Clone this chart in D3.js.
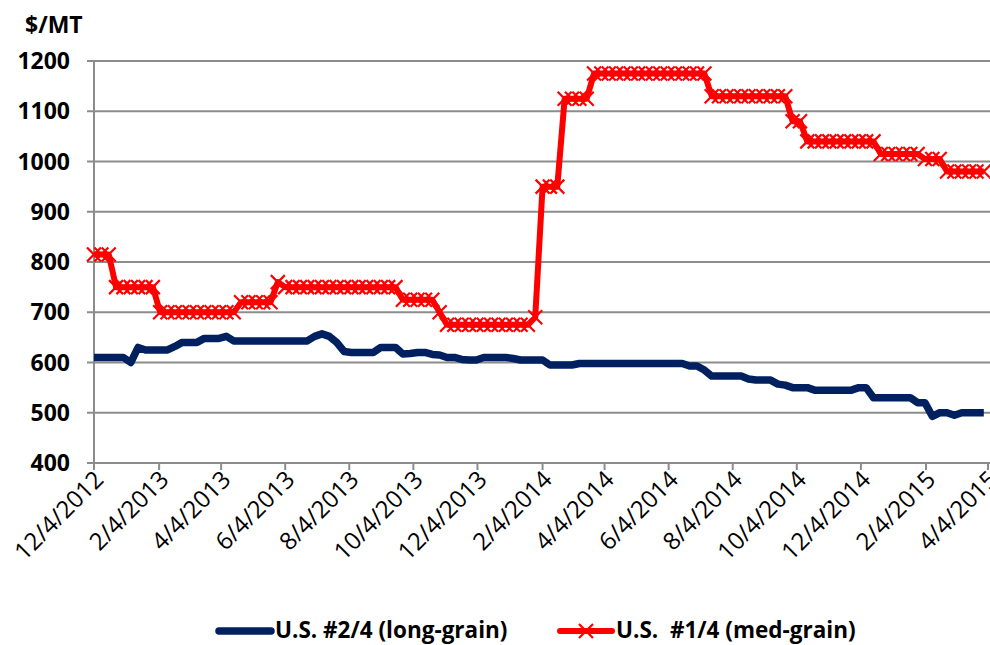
<!DOCTYPE html>
<html lang="en">
  <head>
    <meta charset="UTF-8" />
    <title>Rice prices</title>
    <script src="https://d3js.org/d3.v7.min.js"></script>
    <style>
      body { margin: 0; background: #fff; }
      text { font-family: "Open Sans", sans-serif; fill: #000; }
    </style>
  </head>
  <body>
    <script>
      // weekly quotes starting 12/4/2012
      var startDate = "12/4/2012";
      var longGrain = [
        610, 610, 610, 610, 610, 600, 630, 625, 625, 625, 625, 632, 640, 640, 640, 648,
        648, 648, 652, 643, 643, 643, 643, 643, 643, 643, 643, 643, 643, 643, 652, 657,
        652, 640, 622, 620, 620, 620, 620, 630, 630, 630, 617, 618, 620, 620, 616, 615,
        610, 610, 606, 605, 605, 610, 610, 610, 610, 608, 605, 605, 605, 605, 595, 595,
        595, 595, 598, 598, 598, 598, 598, 598, 598, 598, 598, 598, 598, 598, 598, 598,
        598, 593, 593, 585, 573, 573, 573, 573, 573, 567, 565, 565, 565, 557, 555, 550,
        550, 550, 545, 545, 545, 545, 545, 545, 550, 550, 530, 530, 530, 530, 530, 530,
        520, 520, 493, 500, 500, 495, 500, 500, 500, 500
      ];
      var medGrain = [
        815, 815, 815, 750, 750, 750, 750, 750, 750, 700, 700, 700, 700, 700, 700, 700,
        700, 700, 700, 700, 720, 720, 720, 720, 720, 760, 750, 750, 750, 750, 750, 750,
        750, 750, 750, 750, 750, 750, 750, 750, 750, 750, 725, 725, 725, 725, 725, 700,
        675, 675, 675, 675, 675, 675, 675, 675, 675, 675, 675, 675, 690, 950, 950, 950,
        1125, 1125, 1125, 1125, 1175, 1175, 1175, 1175, 1175, 1175, 1175, 1175, 1175, 1175, 1175, 1175,
        1175, 1175, 1175, 1175, 1130, 1130, 1130, 1130, 1130, 1130, 1130, 1130, 1130, 1130, 1130, 1080,
        1080, 1040, 1040, 1040, 1040, 1040, 1040, 1040, 1040, 1040, 1040, 1015, 1015, 1015, 1015, 1015,
        1015, 1005, 1005, 1005, 980, 980, 980, 980, 980, 980
      ];
      var xTickLabels = [
        "12/4/2012", "2/4/2013", "4/4/2013", "6/4/2013", "8/4/2013", "10/4/2013", "12/4/2013",
        "2/4/2014", "4/4/2014", "6/4/2014", "8/4/2014", "10/4/2014", "12/4/2014", "2/4/2015", "4/4/2015"
      ];
      var yTicks = [400, 500, 600, 700, 800, 900, 1000, 1100, 1200];
      var seriesNames = ["U.S. #2/4 (long-grain)", "U.S.  #1/4 (med-grain)"];

      var parse = d3.timeParse("%m/%d/%Y");
      var start = parse(startDate);
      var tickDates = xTickLabels.map(function (s) { return parse(s); });

      var width = 990, height = 645;
      var plotLeft = 94, plotRight = 988, plotTop = 61, plotBottom = 463;

      var svg = d3.select("body").append("svg")
        .attr("width", width)
        .attr("height", height);

      var x = d3.scaleTime()
        .domain([tickDates[0], tickDates[tickDates.length - 1]])
        .range([plotLeft, plotRight]);
      var y = d3.scaleLinear().domain([400, 1200]).range([plotBottom, plotTop]);

      function toPoints(arr) {
        return arr.map(function (v, i) {
          return { date: d3.timeDay.offset(start, i * 7), value: v };
        });
      }
      var blueData = toPoints(longGrain);
      var redData = toPoints(medGrain);

      // gridlines
      svg.append("g")
        .selectAll("line")
        .data(yTicks)
        .enter()
        .append("line")
        .attr("x1", plotLeft - 7)
        .attr("x2", 990)
        .attr("y1", function (d) { return y(d); })
        .attr("y2", function (d) { return y(d); })
        .attr("stroke", "#8c8c8c")
        .attr("stroke-width", 2);

      // y axis line
      svg.append("line")
        .attr("x1", plotLeft).attr("x2", plotLeft)
        .attr("y1", plotTop).attr("y2", plotBottom + 7)
        .attr("stroke", "#8c8c8c").attr("stroke-width", 2);

      // y labels
      svg.append("g")
        .selectAll("text")
        .data(yTicks)
        .enter()
        .append("text")
        .attr("x", 70)
        .attr("y", function (d) { return y(d) + 8; })
        .attr("text-anchor", "end")
        .style("font-size", "23px")
        .style("font-weight", "bold")
        .text(function (d) { return d; });

      svg.append("text")
        .attr("x", 25).attr("y", 33)
        .style("font-size", "23px")
        .style("font-weight", "bold")
        .text("$/MT");

      // x ticks
      svg.append("g")
        .selectAll("line")
        .data(tickDates)
        .enter()
        .append("line")
        .attr("x1", function (d) { return x(d); })
        .attr("x2", function (d) { return x(d); })
        .attr("y1", plotBottom)
        .attr("y2", plotBottom + 7)
        .attr("stroke", "#8c8c8c")
        .attr("stroke-width", 2);

      svg.append("g")
        .selectAll("text")
        .data(tickDates)
        .enter()
        .append("text")
        .attr("transform", function (d) {
          return "translate(" + (x(d) + 11) + "," + (plotBottom + 18) + ") rotate(-45)";
        })
        .attr("text-anchor", "end")
        .style("font-size", "24px")
        .text(function (d, i) { return xTickLabels[i]; });

      var line = d3.line()
        .x(function (d) { return x(d.date); })
        .y(function (d) { return y(d.value); });

      svg.append("path")
        .datum(blueData)
        .attr("fill", "none")
        .attr("stroke", "#002060")
        .attr("stroke-width", 7.5)
        .attr("stroke-linejoin", "round")
        .attr("d", line);

      svg.append("path")
        .datum(redData)
        .attr("fill", "none")
        .attr("stroke", "#ff0000")
        .attr("stroke-width", 6)
        .attr("stroke-linejoin", "round")
        .attr("d", line);

      var xMark = "M-7,-7L7,7M-7,7L7,-7";
      svg.append("g")
        .selectAll("path")
        .data(redData)
        .enter()
        .append("path")
        .attr("transform", function (d) {
          return "translate(" + x(d.date) + "," + y(d.value) + ")";
        })
        .attr("d", xMark)
        .attr("stroke", "#ff0000")
        .attr("stroke-width", 2.2);

      // legend
      var ly = 631;
      svg.append("line")
        .attr("x1", 219).attr("x2", 271)
        .attr("y1", ly).attr("y2", ly)
        .attr("stroke", "#002060").attr("stroke-width", 7.5)
        .attr("stroke-linecap", "round");
      svg.append("text")
        .attr("x", 275).attr("y", ly + 7)
        .style("font-size", "22.5px").style("font-weight", "bold")
        .text(seriesNames[0]);

      svg.append("line")
        .attr("x1", 560).attr("x2", 612)
        .attr("y1", ly).attr("y2", ly)
        .attr("stroke", "#ff0000").attr("stroke-width", 6)
        .attr("stroke-linecap", "round");
      svg.append("path")
        .attr("transform", "translate(586," + ly + ")")
        .attr("d", xMark)
        .attr("stroke", "#ff0000").attr("stroke-width", 2.2);
      svg.append("text")
        .attr("x", 616).attr("y", ly + 7)
        .style("font-size", "22.5px").style("font-weight", "bold")
        .style("white-space", "pre")
        .text(seriesNames[1]);
    </script>
  </body>
</html>
